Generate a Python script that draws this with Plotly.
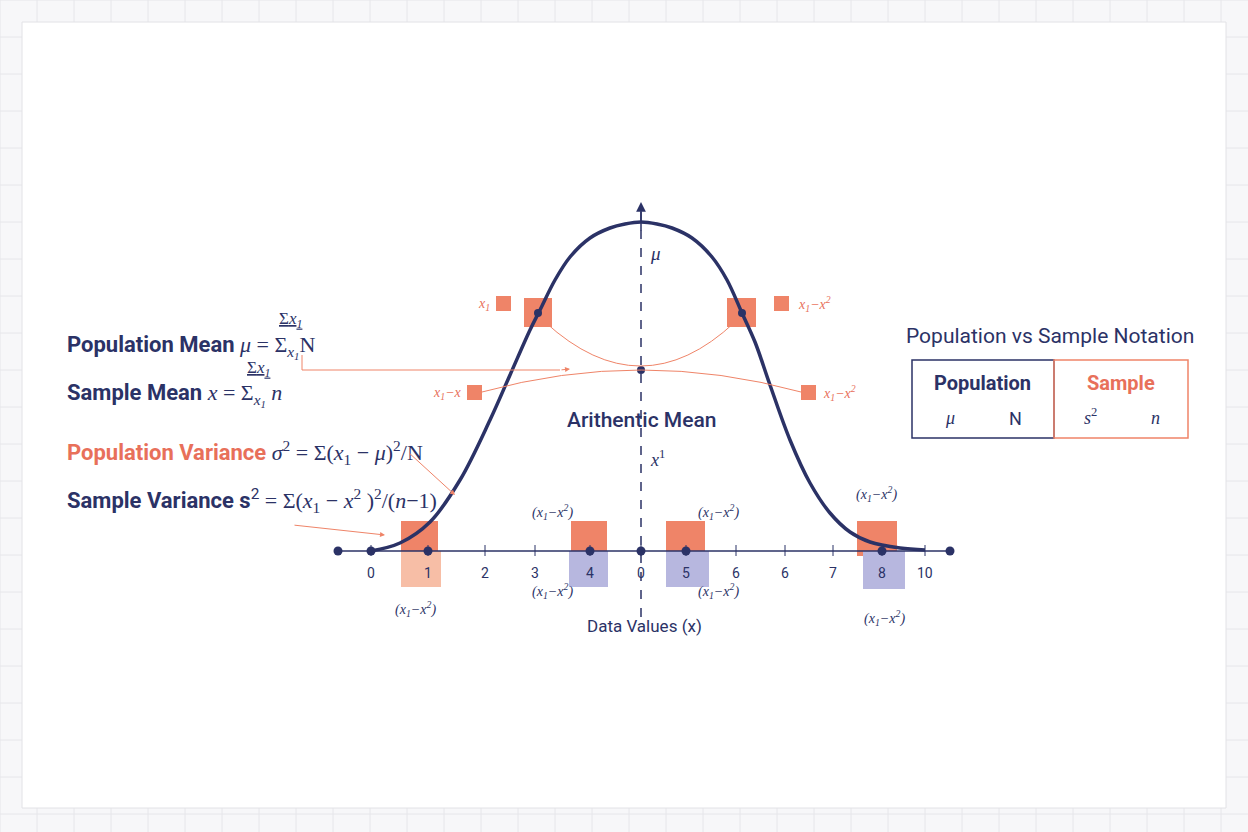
import plotly.graph_objects as go

NAVY = "#2b3266"
ORANGE = "#ef8468"
ORANGE_T = "#e8705a"
LAV = "#b7b7df"
LORANGE = "#f7bea6"

tick_labels = ["0", "1", "2", "3", "4", "0", "5", "6", "6", "7", "8", "10"]
tick_px = [371, 428, 485, 535, 590, 641, 686, 736, 785, 833, 882, 925]
dot_px = [338, 371, 428, 590, 641, 686, 882, 950]

curve_x = [371, 400, 430, 460, 490, 510, 530, 540, 555, 570, 590, 610, 625, 641, 657, 672, 692, 712,
           727, 742, 755, 770, 790, 810, 830, 850, 870, 900, 925]
curve_y = [551, 543, 522, 480, 420, 375, 330, 310, 280, 257, 238, 228, 224, 222, 224, 228, 238, 257,
           280, 313, 342, 385, 440, 483, 513, 532, 542, 548, 550]

boxes = [
    (401, 438, 521, 551, ORANGE), (401, 441, 551, 587, LORANGE),
    (571, 607, 521, 551, ORANGE), (569, 608, 551, 587, LAV),
    (666, 705, 521, 551, ORANGE), (666, 709, 551, 587, LAV),
    (857, 897, 521, 556, ORANGE), (863, 905, 551, 589, LAV),
    (524, 552, 298, 327, ORANGE), (727, 756, 298, 327, ORANGE),
    (496, 511, 296, 311, ORANGE), (774, 789, 296, 311, ORANGE),
    (467, 482, 385, 400, ORANGE), (801, 816, 385, 400, ORANGE),
]
diff_labels_xy = [(552, 512), (718, 512), (876, 494), (552, 591), (718, 591), (415, 609), (884, 618)]

fig = go.Figure()
shapes = []
for gx in range(0, 1249, 37):
    shapes.append(dict(type="line", x0=gx, x1=gx, y0=0, y1=832, line=dict(color="#e6e6ea", width=1), layer="below"))
for gy in range(0, 833, 37):
    shapes.append(dict(type="line", x0=0, x1=1248, y0=gy, y1=gy, line=dict(color="#e6e6ea", width=1), layer="below"))
shapes.append(dict(type="rect", x0=22, x1=1226, y0=22, y1=808, fillcolor="white",
                   line=dict(color="#e2e2e6", width=1), layer="below"))
for x0, x1, y0, y1, c in boxes:
    shapes.append(dict(type="rect", x0=x0, x1=x1, y0=y0, y1=y1, fillcolor=c, line=dict(width=0), layer="below"))
shapes.append(dict(type="line", x0=338, x1=950, y0=551, y1=551, line=dict(color=NAVY, width=1.5)))
for t in tick_px:
    shapes.append(dict(type="line", x0=t, x1=t, y0=545, y1=556, line=dict(color=NAVY, width=1)))
shapes.append(dict(type="line", x0=641, x1=641, y0=212, y1=620, line=dict(color=NAVY, width=1.5, dash="dash")))
shapes.append(dict(type="path", path="M 482,392 Q 641,348 801,392", line=dict(color=ORANGE, width=1)))
shapes.append(dict(type="path", path="M 545,322 Q 641,410 735,322", line=dict(color=ORANGE, width=1)))
shapes.append(dict(type="path", path="M 302,355 L 302,370 L 560,370", line=dict(color=ORANGE, width=1)))
shapes.append(dict(type="rect", x0=912, x1=1054, y0=360, y1=438, line=dict(color=NAVY, width=1.5)))
shapes.append(dict(type="rect", x0=1054, x1=1188, y0=360, y1=438, line=dict(color=ORANGE, width=1.5)))

fig.add_trace(go.Scatter(x=curve_x, y=curve_y, mode="lines", line=dict(color=NAVY, width=3.5, shape="spline"),
                         hoverinfo="skip"))
fig.add_trace(go.Scatter(x=dot_px, y=[551] * len(dot_px), mode="markers",
                         marker=dict(color=NAVY, size=9), hoverinfo="skip"))
fig.add_trace(go.Scatter(x=[538, 742, 641], y=[313, 313, 370], mode="markers",
                         marker=dict(color=NAVY, size=8), hoverinfo="skip"))

ann = []
def T(x, y, text, size=14, color=NAVY, family="Roboto", xanchor="center", weight=None):
    f = dict(size=size, color=color, family=family)
    if weight:
        f["weight"] = weight
    ann.append(dict(x=x, y=y, text=text, showarrow=False, xanchor=xanchor, yanchor="middle", font=f))

SERIF = "Liberation Serif"
for t, lab in zip(tick_px, tick_labels):
    T(t, 573, lab, 14)
for x, y in diff_labels_xy:
    T(x, y, "<i>(x<sub>1</sub>−x<sup>2</sup>)</i>", 14, NAVY, SERIF)
T(644, 626, "Data Values (x)", 17)
T(655, 253, "<i>μ</i>", 19, NAVY, SERIF)
T(641, 420, "Arithentic Mean", 21, NAVY, "Roboto", "center", 500)
T(657, 458, "<i>x</i><sup>1</sup>", 18, NAVY, SERIF)
T(484, 304, "<i>x<sub>1</sub></i>", 14, ORANGE_T, SERIF)
T(796, 304, "<i>x<sub>1</sub>−x<sup>2</sup></i>", 14, ORANGE_T, SERIF, "left")
T(464, 393, "<i>x<sub>1</sub>−x</i>", 14, ORANGE_T, SERIF, "right")
T(821, 393, "<i>x<sub>1</sub>−x<sup>2</sup></i>", 14, ORANGE_T, SERIF, "left")

T(65, 347, "<b>Population Mean</b> <span style='font-family:Liberation Serif'><i>μ</i> = Σ<i><sub>x<sub>1</sub></sub></i>N</span>", 22, NAVY, "Roboto", "left")
T(290, 320, "<span style='text-decoration:underline'>Σ<i>x<sub>1</sub></i></span>", 17, NAVY, SERIF, "center")
T(65, 395, "<b>Sample Mean</b> <span style='font-family:Liberation Serif'><i>x</i> = Σ<i><sub>x<sub>1</sub></sub> n</i></span>", 22, NAVY, "Roboto", "left")
T(258, 369, "<span style='text-decoration:underline'>Σ<i>x<sub>1</sub></i></span>", 17, NAVY, SERIF, "center")
T(65, 452, "<span style='color:#e8705a'><b>Population Variance</b></span> <span style='font-family:Liberation Serif'><i>σ</i><sup>2</sup> = Σ(<i>x</i><sub>1</sub> − <i>μ</i>)<sup>2</sup>/N</span>", 22, NAVY, "Roboto", "left")
T(65, 500, "<b>Sample Variance s</b><sup>2</sup> <span style='font-family:Liberation Serif'>= Σ(<i>x</i><sub>1</sub> − <i>x</i><sup>2</sup> )<sup>2</sup>/(<i>n</i>−1)</span>", 22, NAVY, "Roboto", "left")

for (x0, y0, x1, y1) in [(560, 370, 570, 369), (408, 452, 455, 495), (293, 525, 385, 535)]:
    ann.append(dict(x=x1, y=y1, ax=x0, ay=y0, axref="x", ayref="y", xref="x", yref="y", text="",
                    showarrow=True, arrowhead=2, arrowsize=1, arrowwidth=1, arrowcolor=ORANGE))
ann.append(dict(x=641, y=202, ax=641, ay=232, axref="x", ayref="y", text="", showarrow=True,
                arrowhead=2, arrowsize=1.3, arrowwidth=1.5, arrowcolor=NAVY))

T(1050, 336, "Population vs Sample Notation", 21)
T(982, 383, "<b>Population</b>", 20)
T(950, 418, "<i>μ</i>", 18, NAVY, SERIF)
T(1015, 418, "N", 18)
T(1121, 383, "<b>Sample</b>", 20, ORANGE_T)
T(1090, 416, "<i>s</i><sup>2</sup>", 18, NAVY, SERIF)
T(1155, 418, "<i>n</i>", 18, NAVY, SERIF)

fig.update_layout(
    width=1248, height=832, margin=dict(l=0, r=0, t=0, b=0),
    paper_bgcolor="#f7f7f9", plot_bgcolor="rgba(0,0,0,0)", showlegend=False,
    xaxis=dict(range=[0, 1248], visible=False, fixedrange=True),
    yaxis=dict(range=[832, 0], visible=False, fixedrange=True),
    shapes=shapes, annotations=ann,
)
fig.write_html("out.html", config={"displayModeBar": False},
               post_script="document.body.style.margin='0';document.body.style.overflow='hidden';")
